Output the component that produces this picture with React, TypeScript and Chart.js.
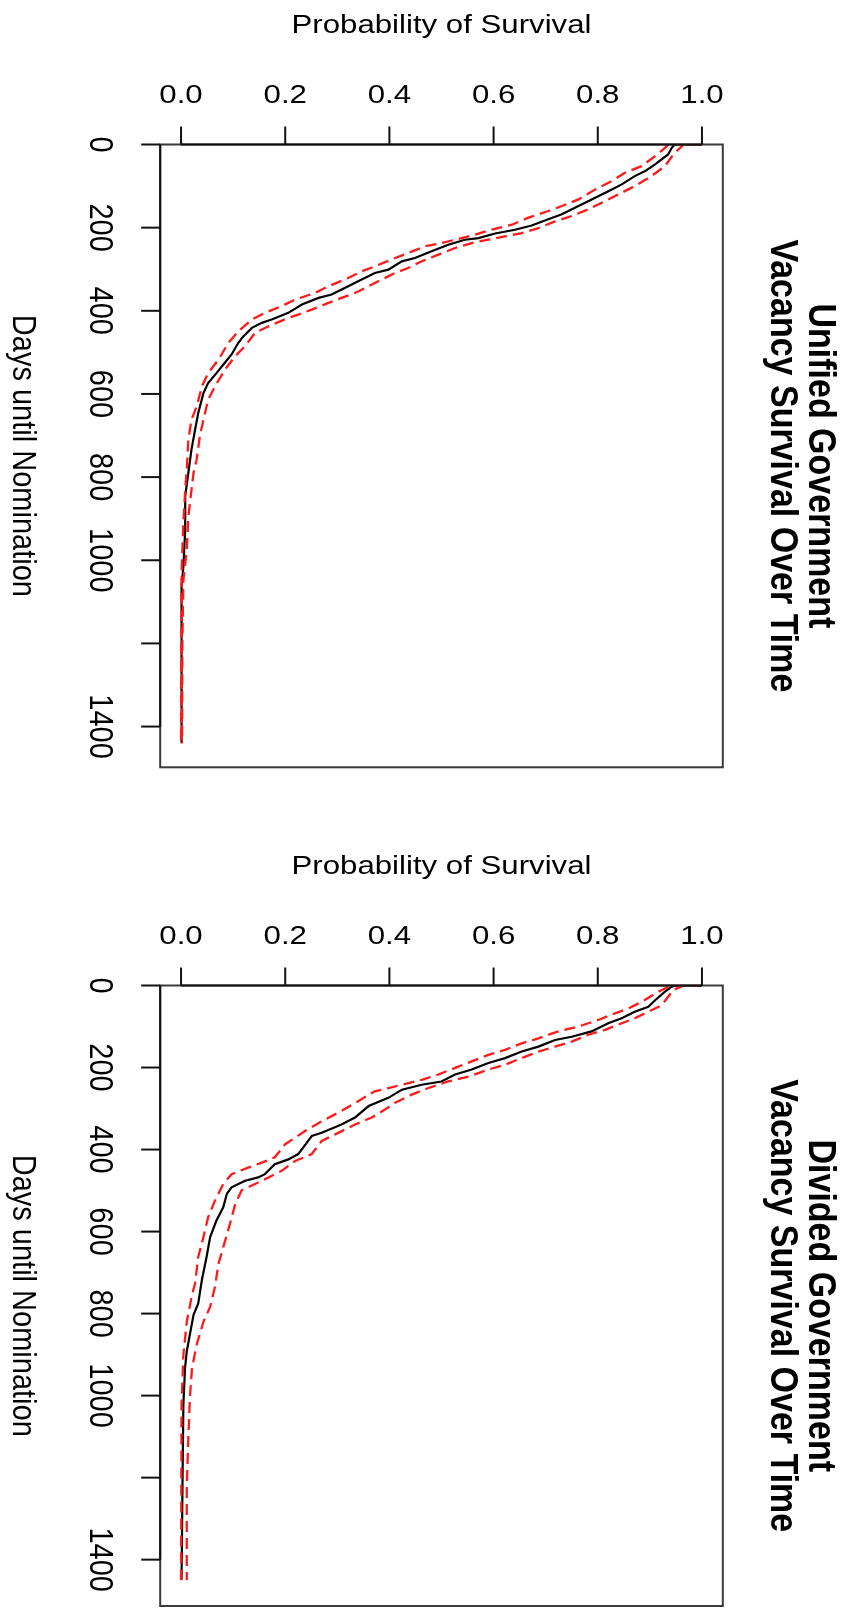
import React, { useEffect, useRef } from "react";
import { Chart, registerables } from "chart.js";
Chart.register(...registerables);

// ---- axis ticks ----
const probTicks = [0, 0.2, 0.4, 0.6, 0.8, 1.0];
const probTickLabels = ["0.0", "0.2", "0.4", "0.6", "0.8", "1.0"];
const dayTicks = [0, 200, 400, 600, 800, 1000, 1200, 1400];
const dayTickLabels = ["0", "200", "400", "600", "800", "1000", "", "1400"];

// ---- Unified government ----
const unifiedDays = [0, 0, 8, 24, 48, 64, 76, 96, 108, 128, 148, 168, 180, 195, 205, 214, 225, 229, 241, 257, 273, 281, 301, 309, 329, 341, 361, 369, 385, 405, 421, 429, 441, 461, 477, 505, 525, 550, 574, 598, 646, 686, 734, 790, 846, 927, 1015, 1063, 1440];
const unifiedSurv = [1.0, 0.948, 0.942, 0.935, 0.910, 0.891, 0.871, 0.846, 0.827, 0.795, 0.763, 0.731, 0.705, 0.673, 0.641, 0.603, 0.571, 0.545, 0.513, 0.481, 0.449, 0.424, 0.398, 0.372, 0.340, 0.321, 0.289, 0.264, 0.232, 0.206, 0.174, 0.155, 0.136, 0.120, 0.110, 0.097, 0.084, 0.068, 0.052, 0.043, 0.033, 0.027, 0.020, 0.014, 0.008, 0.008, 0.0045, 0.001, 0.001];
const unifiedUpperDays = [0, 0, 24, 52, 76, 100, 116, 136, 156, 172, 185, 201, 213, 221, 229, 237, 249, 265, 281, 297, 309, 325, 341, 357, 369, 381, 397, 409, 417, 437, 453, 485, 509, 542, 582, 614, 662, 702, 758, 790, 895, 975, 1047, 1191, 1440];
const unifiedUpper = [1.0, 0.965, 0.945, 0.929, 0.903, 0.871, 0.846, 0.814, 0.782, 0.750, 0.718, 0.686, 0.654, 0.622, 0.590, 0.558, 0.526, 0.494, 0.462, 0.436, 0.411, 0.385, 0.360, 0.334, 0.308, 0.283, 0.251, 0.225, 0.206, 0.168, 0.142, 0.123, 0.104, 0.084, 0.065, 0.052, 0.043, 0.036, 0.030, 0.024, 0.014, 0.011, 0.0045, 0.0026, 0.002];
const unifiedLowerDays = [0, 0, 8, 28, 52, 68, 88, 108, 132, 148, 160, 176, 193, 205, 217, 229, 237, 245, 261, 273, 293, 305, 321, 341, 357, 373, 389, 405, 421, 449, 477, 517, 550, 582, 630, 662, 710, 782, 830, 911, 1031, 1440];
const unifiedLower = [1.0, 0.935, 0.929, 0.910, 0.884, 0.852, 0.827, 0.795, 0.763, 0.731, 0.705, 0.667, 0.635, 0.596, 0.564, 0.526, 0.500, 0.468, 0.436, 0.411, 0.372, 0.347, 0.321, 0.283, 0.257, 0.219, 0.193, 0.161, 0.136, 0.110, 0.091, 0.072, 0.052, 0.040, 0.030, 0.020, 0.014, 0.011, 0.008, 0.0045, 0.001, 0.0];

// ---- Divided government ----
const dividedDays = [0, 0, 3, 15, 36, 52, 64, 80, 92, 112, 125, 133, 149, 161, 177, 189, 205, 217, 234, 242, 254, 274, 294, 322, 339, 359, 367, 379, 411, 424, 436, 460, 468, 476, 492, 508, 541, 573, 613, 662, 718, 775, 803, 892, 932, 1021, 1191, 1449];
const dividedSurv = [1.0, 0.95, 0.942, 0.929, 0.910, 0.897, 0.871, 0.846, 0.820, 0.788, 0.750, 0.718, 0.686, 0.654, 0.622, 0.590, 0.558, 0.526, 0.500, 0.462, 0.424, 0.398, 0.360, 0.334, 0.308, 0.270, 0.251, 0.244, 0.225, 0.206, 0.180, 0.161, 0.148, 0.123, 0.097, 0.088, 0.081, 0.068, 0.056, 0.049, 0.040, 0.033, 0.024, 0.011, 0.0077, 0.0045, 0.003, 0.001];
const dividedUpperDays = [0, 0, 11, 48, 64, 80, 92, 108, 120, 137, 149, 161, 177, 193, 205, 222, 234, 250, 266, 286, 302, 322, 339, 363, 379, 411, 428, 452, 468, 484, 500, 533, 581, 638, 678, 735, 783, 820, 876, 933, 1006, 1103, 1224, 1450];
const dividedUpper = [1.0, 0.965, 0.945, 0.923, 0.897, 0.871, 0.846, 0.814, 0.782, 0.750, 0.718, 0.686, 0.654, 0.622, 0.590, 0.552, 0.513, 0.475, 0.443, 0.411, 0.392, 0.366, 0.334, 0.296, 0.270, 0.251, 0.219, 0.193, 0.168, 0.142, 0.116, 0.104, 0.094, 0.081, 0.072, 0.065, 0.056, 0.043, 0.030, 0.021, 0.017, 0.014, 0.011, 0.011];
const dividedLowerDays = [0, 0, 3, 20, 40, 56, 68, 84, 100, 112, 129, 141, 157, 169, 185, 201, 217, 230, 242, 250, 258, 282, 306, 331, 355, 371, 387, 419, 432, 444, 460, 484, 525, 565, 613, 662, 726, 755, 820, 901, 1021, 1450];
const dividedLower = [1.0, 0.94, 0.935, 0.910, 0.884, 0.859, 0.833, 0.801, 0.763, 0.724, 0.686, 0.654, 0.622, 0.590, 0.558, 0.526, 0.494, 0.462, 0.424, 0.398, 0.372, 0.340, 0.308, 0.270, 0.238, 0.219, 0.200, 0.180, 0.155, 0.129, 0.097, 0.081, 0.065, 0.052, 0.043, 0.033, 0.027, 0.021, 0.011, 0.0045, 0.001, 0.0];

const FONT = '"Liberation Sans", Arial, Helvetica, sans-serif';

type PanelCfg = {
  title1: string;
  title2: string;
  dayMax: number;
  top: number;
  height: number;
  padTop: number;
  padBottom: number;
  days: number[];
  surv: number[];
  upDays: number[];
  up: number[];
  loDays: number[];
  lo: number[];
};

function pts(days: number[], vals: number[]) {
  return days.map((d, i) => ({ x: vals[i], y: d }));
}

function drawText(
  ctx: CanvasRenderingContext2D,
  text: string,
  x: number,
  y: number,
  font: string,
  rotate: number,
  sx: number,
  sy: number,
  align: CanvasTextAlign = "center"
) {
  ctx.save();
  ctx.translate(x, y);
  if (rotate) ctx.rotate(rotate);
  ctx.scale(sx, sy);
  ctx.font = font;
  ctx.textAlign = align;
  ctx.textBaseline = "alphabetic";
  ctx.fillStyle = "#000";
  ctx.fillText(text, 0, 0);
  ctx.restore();
}

function makeAxesPlugin(cfg: PanelCfg) {
  return {
    id: "rAxes",
    afterDraw(chart: any) {
      const ctx: CanvasRenderingContext2D = chart.ctx;
      const a = chart.chartArea;
      const xs = chart.scales.x;
      const ys = chart.scales.y;
      const line = (x1: number, y1: number, x2: number, y2: number) => {
        ctx.beginPath();
        ctx.moveTo(x1, y1);
        ctx.lineTo(x2, y2);
        ctx.stroke();
      };
      ctx.save();
      ctx.lineCap = "butt";
      // box
      ctx.strokeStyle = "#3a3a3a";
      ctx.lineWidth = 2;
      ctx.strokeRect(a.left, a.top, a.right - a.left, a.bottom - a.top);
      // probability axis (top)
      ctx.strokeStyle = "#111";
      ctx.lineWidth = 2;
      const px0 = xs.getPixelForValue(probTicks[0]);
      const px1 = xs.getPixelForValue(probTicks[probTicks.length - 1]);
      line(px0, a.top, px1, a.top);
      probTicks.forEach((v) => {
        const px = xs.getPixelForValue(v);
        line(px, a.top, px, a.top - 18);
      });
      // days axis (left)
      const py0 = ys.getPixelForValue(dayTicks[0]);
      const py1 = ys.getPixelForValue(dayTicks[dayTicks.length - 1]);
      line(a.left, py0, a.left, py1);
      dayTicks.forEach((v) => {
        const py = ys.getPixelForValue(v);
        line(a.left, py, a.left - 19, py);
      });
      // tick labels
      const tickFont = `26px ${FONT}`;
      probTicks.forEach((v, i) => {
        drawText(ctx, probTickLabels[i], xs.getPixelForValue(v), a.top - 41.5, tickFont, 0, 1.2, 1);
      });
      const vFont = `29px ${FONT}`;
      dayTicks.forEach((v, i) => {
        if (!dayTickLabels[i]) return;
        drawText(ctx, dayTickLabels[i], a.left - 70.5, ys.getPixelForValue(v), vFont, Math.PI / 2, 1, 1.15);
      });
      // axis titles
      const cx = (a.left + a.right) / 2;
      const cy = (a.top + a.bottom) / 2;
      drawText(ctx, "Probability of Survival", cx, a.top - 111.2, tickFont, 0, 1.2, 1);
      drawText(ctx, "Days until Nomination", a.left - 147, cy, vFont, Math.PI / 2, 1, 1.15);
      // main title (two lines)
      const tFont = `bold 34px ${FONT}`;
      drawText(ctx, cfg.title1, a.right + 86, cy + 10, tFont, Math.PI / 2, 1, 1.12);
      drawText(ctx, cfg.title2, a.right + 48, cy + 10, tFont, Math.PI / 2, 1, 1.12);
      ctx.restore();
    },
  };
}

function Panel({ cfg }: { cfg: PanelCfg }) {
  const ref = useRef<HTMLCanvasElement>(null);
  useEffect(() => {
    const canvas = ref.current!;
    const red = "#ff1a1a";
    const chart = new Chart(canvas, {
      type: "line",
      data: {
        datasets: [
          {
            label: "Upper 95% CI",
            data: pts(cfg.upDays, cfg.up),
            borderColor: red,
            borderWidth: 2.3,
            borderDash: [11, 6],
            pointRadius: 0,
            fill: false,
          },
          {
            label: "Lower 95% CI",
            data: pts(cfg.loDays, cfg.lo),
            borderColor: red,
            borderWidth: 2.3,
            borderDash: [11, 6],
            pointRadius: 0,
            fill: false,
          },
          {
            label: "Survival",
            data: pts(cfg.days, cfg.surv),
            borderColor: "#000",
            borderWidth: 2.2,
            pointRadius: 0,
            fill: false,
          },
        ],
      },
      options: {
        animation: false,
        responsive: false,
        indexAxis: "y",
        layout: {
          padding: { left: 160.2, right: 124.2, top: cfg.padTop, bottom: cfg.padBottom },
        },
        plugins: {
          legend: { display: false },
          tooltip: { enabled: false },
        },
        elements: { line: { tension: 0 }, point: { radius: 0 } },
        scales: {
          x: { type: "linear", min: -0.04, max: 1.04, display: false },
          y: { type: "linear", min: 0, max: cfg.dayMax, reverse: true, display: false },
        },
      } as any,
      plugins: [makeAxesPlugin(cfg)],
    });
    return () => chart.destroy();
  }, []);
  return (
    <canvas
      ref={ref}
      width={847}
      height={cfg.height}
      style={{ position: "absolute", left: 0, top: cfg.top, width: 847, height: cfg.height, display: "block" }}
    />
  );
}

const unifiedCfg: PanelCfg = {
  title1: "Unified Government",
  title2: "Vacancy Survival Over Time",
  dayMax: 1498,
  top: 0,
  height: 840,
  padTop: 144.5,
  padBottom: 72.7,
  days: unifiedDays,
  surv: unifiedSurv,
  upDays: unifiedUpperDays,
  up: unifiedUpper,
  loDays: unifiedLowerDays,
  lo: unifiedLower,
};

const dividedCfg: PanelCfg = {
  title1: "Divided Government",
  title2: "Vacancy Survival Over Time",
  dayMax: 1513,
  top: 840,
  height: 768,
  padTop: 145.5,
  padBottom: 2,
  days: dividedDays,
  surv: dividedSurv,
  upDays: dividedUpperDays,
  up: dividedUpper,
  loDays: dividedLowerDays,
  lo: dividedLower,
};

export default function App() {
  return (
    <div style={{ position: "absolute", left: 0, top: 0, width: 847, height: 1608, background: "#fff", overflow: "hidden" }}>
      <Panel cfg={unifiedCfg} />
      <Panel cfg={dividedCfg} />
    </div>
  );
}
